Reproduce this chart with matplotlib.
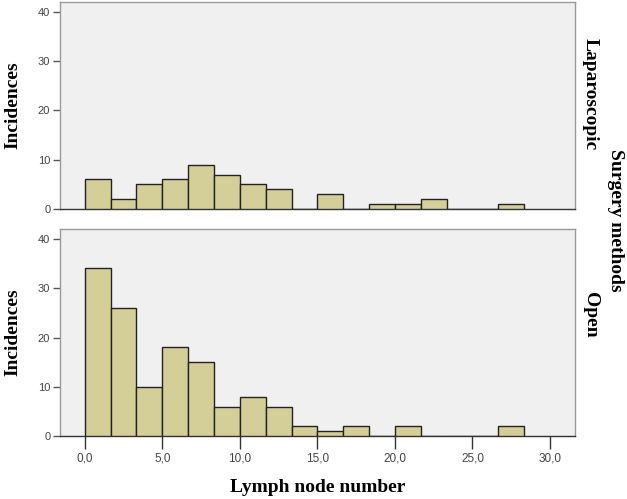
import numpy as np
import matplotlib
matplotlib.use("Agg")
import matplotlib.pyplot as plt

# histogram counts per bin (17 bins, width 5/3, starting at 0)
bin_width = 5.0 / 3.0
lap_counts = [6, 2, 5, 6, 9, 7, 5, 4, 0, 3, 0, 1, 1, 2, 0, 0, 1]
open_counts = [34, 26, 10, 18, 15, 6, 8, 6, 2, 1, 2, 0, 2, 0, 0, 0, 2]
groups = ["Laparoscopic", "Open"]
x_ticks = [0, 5, 10, 15, 20, 25, 30]
y_ticks = [0, 10, 20, 30, 40]

bar_color = "#D4CF99"
bg_color = "#F0F0F0"
frame_color = "#9A9A9A"
tick_color = "#444444"
serif = ["Liberation Serif", "DejaVu Serif"]

fig = plt.figure(figsize=(6.27, 4.99), dpi=100)
ax_top = fig.add_axes([0.0957, 0.581, 0.821, 0.415])
ax_bot = fig.add_axes([0.0957, 0.126, 0.821, 0.415])

lefts = np.arange(len(lap_counts)) * bin_width

for ax, counts in [(ax_top, lap_counts), (ax_bot, open_counts)]:
    ax.set_facecolor(bg_color)
    ax.bar(lefts, counts, width=bin_width, align="edge", color=bar_color,
           edgecolor="#222222", linewidth=1.0, zorder=3)
    ax.set_xlim(-1.6, 31.6)
    ax.set_ylim(0, 42)
    ax.set_yticks(y_ticks)
    ax.set_yticklabels([str(v) for v in y_ticks], fontsize=8, color=tick_color,
                       family="Liberation Sans")
    for side in ["top", "right", "left"]:
        ax.spines[side].set_color(frame_color)
        ax.spines[side].set_linewidth(1.0)
    ax.spines["bottom"].set_color("#333333")
    ax.spines["bottom"].set_linewidth(1.0)
    ax.tick_params(axis="y", direction="out", length=5, width=1,
                   color="#555555", pad=2)
    ax.set_ylabel("Incidences", fontsize=14, fontweight="bold", family=serif,
                  labelpad=12)

ax_top.set_xticks([])
ax_bot.set_xticks(x_ticks)
ax_bot.set_xticklabels([f"{v:.1f}".replace(".", ",") for v in x_ticks],
                       fontsize=8.5, color=tick_color, family="Liberation Sans")
ax_bot.tick_params(axis="x", direction="out", length=9, width=1,
                   color="#333333", pad=3)
ax_bot.set_xlabel("Lymph node number", fontsize=14, fontweight="bold",
                  family=serif, labelpad=10)

# right-side facet labels
fig.text(0.941, 1 - 94 / 499, groups[0], rotation=-90, ha="center",
         va="center", fontsize=14, fontweight="bold", family=serif)
fig.text(0.941, 1 - 315 / 499, groups[1], rotation=-90, ha="center",
         va="center", fontsize=14, fontweight="bold", family=serif)
fig.text(0.982, 1 - 220 / 499, "Surgery methods", rotation=-90, ha="center",
         va="center", fontsize=14, fontweight="bold", family=serif)

plt.savefig("out.png", dpi=100, facecolor="white")
